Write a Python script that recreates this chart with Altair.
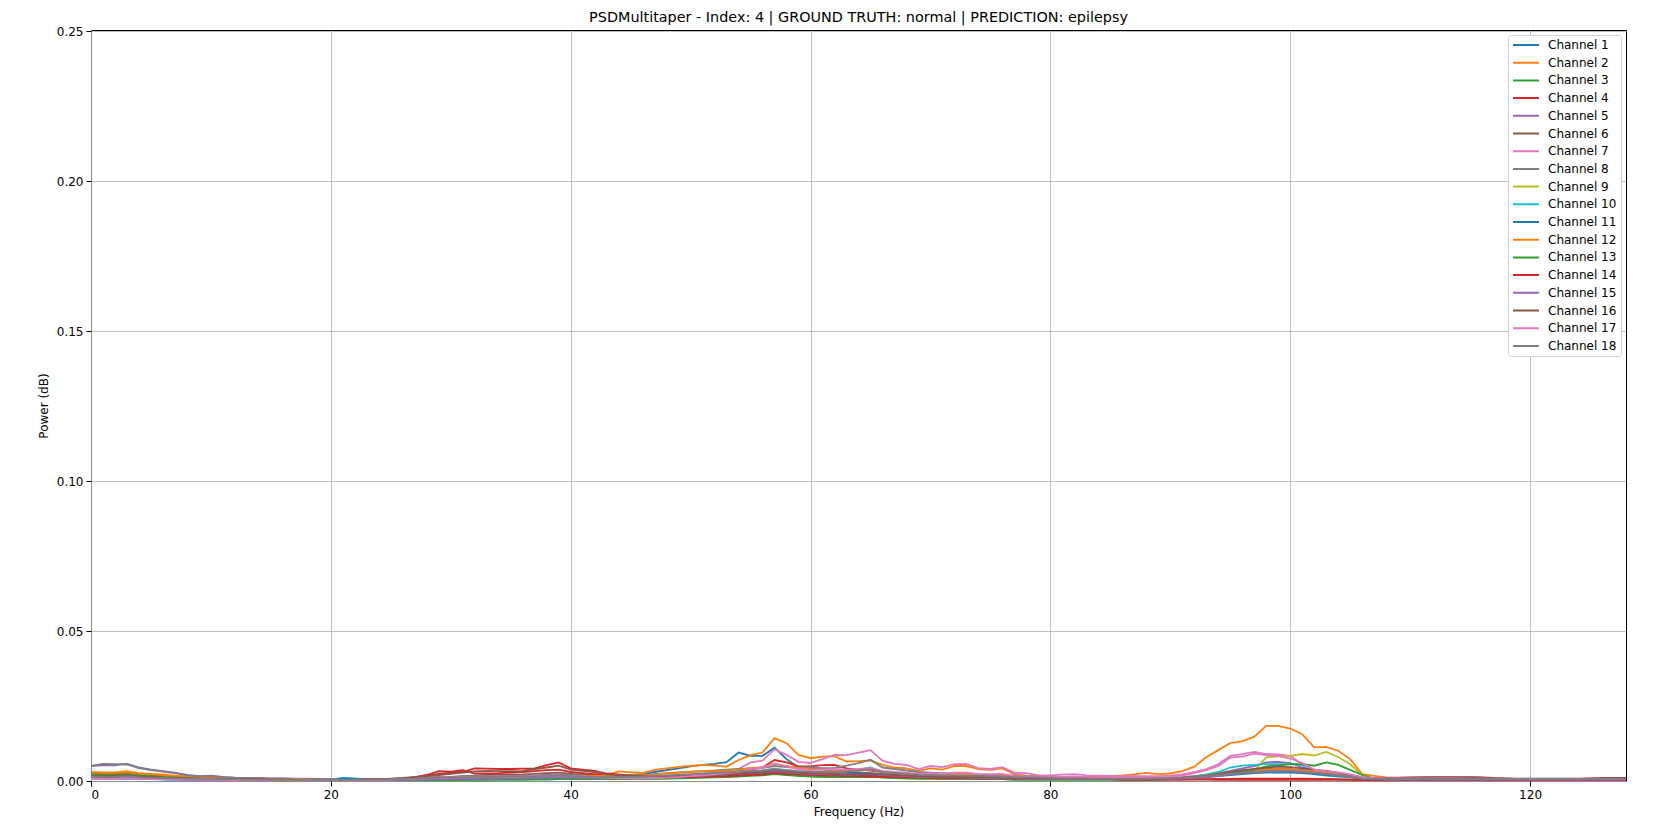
import altair as alt
import pandas as pd

# Frequencies (Hz)
freqs = [0, 1, 2, 3, 4, 5, 6, 7, 8, 9,
         10, 11, 12, 13, 14, 15, 16, 17, 18, 19,
         20, 21, 22, 23, 24, 25, 26, 27, 28, 29,
         30, 31, 32, 33, 34, 35, 36, 37, 38, 39,
         40, 41, 42, 43, 44, 45, 46, 47, 48, 49,
         50, 51, 52, 53, 54, 55, 56, 57, 58, 59,
         60, 61, 62, 63, 64, 65, 66, 67, 68, 69,
         70, 71, 72, 73, 74, 75, 76, 77, 78, 79,
         80, 81, 82, 83, 84, 85, 86, 87, 88, 89,
         90, 91, 92, 93, 94, 95, 96, 97, 98, 99,
         100, 101, 102, 103, 104, 105, 106, 107, 108, 109,
         110, 111, 112, 113, 114, 115, 116, 117, 118, 119,
         120, 121, 122, 123, 124, 125, 126, 127, 128]

# Power values per channel, in units of 1e-3
ch1 = [2.0, 1.8, 1.8, 2.0, 1.6, 1.4, 1.2, 1.0, 0.9, 0.9,
       0.8, 0.7, 0.7, 0.6, 0.6, 0.5, 0.5, 0.5, 0.4, 0.4,
       0.4, 1.0, 0.8, 0.6, 0.5, 0.6, 0.7, 0.8, 0.9, 1.0,
       1.1, 1.2, 1.2, 1.3, 1.3, 1.4, 1.5, 1.6, 1.7, 1.8,
       1.6, 1.5, 1.4, 1.5, 1.8, 2.0, 2.3, 3.0, 3.6, 4.2,
       4.9, 5.4, 5.7, 6.3, 9.5, 8.4, 8.4, 11.1, 7.3, 4.5,
       4.0, 4.0, 3.2, 3.0, 2.8, 2.6, 2.3, 2.0, 1.8, 1.6,
       1.6, 1.5, 1.5, 1.4, 1.3, 1.2, 1.2, 1.0, 0.9, 0.8,
       0.8, 0.8, 0.7, 0.7, 0.7, 0.7, 0.7, 0.8, 0.8, 0.9,
       1.0, 1.2, 1.5, 1.8, 2.2, 2.6, 3.0, 3.2, 3.4, 3.5,
       3.3, 3.0, 2.6, 2.2, 1.8, 1.3, 0.8, 0.6, 0.6, 0.6,
       0.6, 0.6, 0.6, 0.6, 0.6, 0.5, 0.5, 0.4, 0.4, 0.4,
       0.4, 0.4, 0.4, 0.4, 0.4, 0.4, 0.4, 0.4, 0.4]
ch2 = [3.0, 2.9, 2.9, 3.3, 2.6, 2.4, 2.2, 1.8, 1.5, 1.3,
       1.1, 1.0, 0.9, 0.8, 0.7, 0.7, 0.6, 0.6, 0.5, 0.5,
       0.5, 0.5, 0.5, 0.5, 0.6, 0.7, 0.8, 0.9, 1.0, 1.1,
       1.2, 1.3, 1.4, 1.4, 1.5, 1.5, 1.6, 1.7, 1.8, 2.0,
       2.0, 2.2, 2.4, 2.0, 3.2, 2.9, 2.6, 3.7, 4.2, 4.7,
       5.0, 5.4, 5.1, 4.8, 7.0, 8.6, 9.5, 14.3, 12.6, 8.7,
       7.6, 8.1, 8.3, 6.5, 6.6, 6.9, 5.4, 4.5, 4.2, 3.4,
       4.2, 3.8, 5.0, 5.0, 4.0, 3.7, 4.2, 2.3, 1.8, 1.5,
       1.4, 1.4, 1.4, 1.4, 1.5, 1.6, 1.9, 2.2, 2.7, 2.3,
       2.5, 3.3, 4.8, 7.9, 10.3, 12.6, 13.2, 14.8, 18.4, 18.4,
       17.5, 15.6, 11.2, 11.4, 10.1, 7.3, 2.3, 1.7, 1.2, 1.0,
       1.0, 1.0, 1.0, 1.0, 0.9, 0.9, 0.8, 0.7, 0.6, 0.6,
       0.5, 0.5, 0.5, 0.5, 0.5, 0.5, 0.5, 0.5, 0.5]
ch3 = [2.5, 2.2, 2.2, 2.5, 2.0, 1.8, 1.5, 1.2, 1.0, 0.9,
       0.8, 0.7, 0.6, 0.6, 0.5, 0.5, 0.4, 0.4, 0.4, 0.3,
       0.3, 0.3, 0.3, 0.3, 0.3, 0.3, 0.3, 0.4, 0.4, 0.4,
       0.4, 0.5, 0.5, 0.5, 0.5, 0.5, 0.5, 0.6, 0.6, 0.6,
       0.6, 0.6, 0.6, 0.6, 0.7, 0.7, 0.8, 0.8, 0.9, 1.0,
       1.1, 1.2, 1.3, 1.5, 1.8, 2.0, 2.2, 2.8, 2.2, 1.8,
       1.6, 1.5, 1.4, 1.3, 1.3, 1.4, 1.2, 1.0, 0.9, 0.8,
       0.8, 0.7, 0.7, 0.7, 0.6, 0.6, 0.6, 0.5, 0.5, 0.5,
       0.5, 0.5, 0.5, 0.5, 0.5, 0.5, 0.5, 0.5, 0.5, 0.6,
       0.7, 0.9, 1.2, 1.6, 2.0, 2.6, 3.0, 3.3, 3.6, 3.8,
       3.8, 3.6, 3.2, 2.8, 2.4, 1.8, 0.9, 0.6, 0.5, 0.5,
       0.5, 0.5, 0.5, 0.5, 0.5, 0.4, 0.4, 0.4, 0.4, 0.4,
       0.4, 0.4, 0.4, 0.4, 0.4, 0.4, 0.4, 0.4, 0.4]
ch4 = [2.0, 1.9, 1.9, 2.4, 1.8, 1.6, 1.4, 1.2, 1.0, 0.9,
       0.8, 0.8, 0.7, 0.6, 0.6, 0.5, 0.5, 0.5, 0.4, 0.4,
       0.4, 0.4, 0.4, 0.4, 0.5, 0.6, 0.8, 1.3, 2.0, 3.3,
       3.1, 3.6, 2.5, 2.5, 2.6, 2.8, 3.0, 3.3, 3.6, 3.8,
       3.0, 2.6, 2.2, 1.8, 1.5, 1.3, 1.2, 1.2, 1.3, 1.5,
       1.6, 1.8, 2.0, 2.3, 3.2, 3.8, 4.5, 7.0, 6.2, 4.9,
       4.9, 5.3, 5.4, 4.2, 3.8, 3.5, 3.0, 2.6, 2.2, 2.0,
       1.8, 1.6, 1.5, 1.4, 1.3, 1.2, 1.2, 1.0, 0.9, 0.8,
       0.8, 0.7, 0.7, 0.6, 0.6, 0.6, 0.5, 0.5, 0.5, 0.5,
       0.5, 0.5, 0.6, 0.6, 0.7, 0.7, 0.8, 0.8, 0.8, 0.8,
       0.8, 0.8, 0.7, 0.7, 0.6, 0.5, 0.4, 0.4, 0.4, 0.4,
       0.4, 0.4, 0.4, 0.4, 0.4, 0.4, 0.4, 0.4, 0.4, 0.4,
       0.4, 0.4, 0.4, 0.4, 0.4, 0.4, 0.4, 0.4, 0.4]
ch5 = [5.0, 5.3, 5.2, 5.8, 4.5, 3.8, 3.3, 2.8, 2.0, 1.6,
       1.8, 1.4, 1.1, 1.0, 1.0, 0.9, 0.9, 0.8, 0.8, 0.7,
       0.6, 0.6, 0.5, 0.5, 0.5, 0.5, 0.6, 0.6, 0.6, 0.7,
       0.7, 0.7, 0.8, 0.8, 0.8, 0.9, 0.9, 1.0, 1.0, 1.0,
       1.0, 1.0, 1.0, 1.0, 1.0, 1.1, 1.1, 1.2, 1.3, 1.4,
       1.5, 1.6, 1.8, 2.0, 2.2, 2.4, 2.6, 3.0, 2.6, 2.3,
       2.1, 2.0, 1.9, 1.8, 1.9, 2.0, 1.7, 1.5, 1.4, 1.2,
       1.1, 1.0, 1.0, 0.9, 0.9, 0.8, 0.8, 0.7, 0.7, 0.6,
       0.6, 0.6, 0.6, 0.6, 0.6, 0.6, 0.6, 0.6, 0.6, 0.7,
       0.8, 1.0, 1.4, 1.9, 2.6, 3.4, 4.2, 5.0, 6.2, 6.4,
       6.0, 4.5, 3.5, 3.0, 2.5, 1.8, 0.9, 0.7, 0.6, 0.6,
       0.6, 0.6, 0.6, 0.6, 0.6, 0.5, 0.5, 0.5, 0.5, 0.5,
       0.5, 0.5, 0.5, 0.5, 0.5, 0.5, 0.5, 0.5, 0.5]
ch6 = [1.2, 1.1, 1.1, 1.3, 1.0, 0.9, 0.8, 0.7, 0.6, 0.6,
       0.5, 0.5, 0.5, 0.4, 0.4, 0.4, 0.4, 0.3, 0.3, 0.3,
       0.3, 0.3, 0.3, 0.3, 0.4, 0.5, 0.6, 0.8, 1.0, 1.2,
       1.4, 1.6, 1.8, 2.0, 2.0, 2.1, 2.2, 2.4, 2.6, 2.8,
       2.4, 2.0, 1.8, 1.5, 1.3, 1.2, 1.1, 1.1, 1.2, 1.3,
       1.4, 1.6, 1.8, 2.0, 2.3, 2.6, 2.9, 3.4, 3.0, 2.6,
       2.4, 2.3, 2.2, 2.1, 2.2, 2.3, 2.0, 1.8, 1.6, 1.5,
       1.4, 1.3, 1.3, 1.2, 1.1, 1.1, 1.0, 0.9, 0.8, 0.8,
       0.7, 0.7, 0.7, 0.7, 0.7, 0.7, 0.7, 0.7, 0.7, 0.8,
       0.9, 1.0, 1.3, 1.7, 2.2, 2.8, 3.3, 3.6, 3.9, 4.1,
       3.9, 3.6, 3.3, 3.0, 2.6, 1.9, 1.1, 0.9, 0.9, 1.0,
       1.1, 1.1, 1.2, 1.2, 1.2, 1.2, 1.1, 0.9, 0.8, 0.7,
       0.7, 0.7, 0.7, 0.7, 0.7, 0.8, 0.9, 0.9, 0.9]
ch7 = [1.0, 0.9, 0.9, 1.1, 0.9, 0.8, 0.7, 0.6, 0.5, 0.5,
       0.4, 0.4, 0.4, 0.4, 0.3, 0.3, 0.3, 0.3, 0.3, 0.3,
       0.3, 0.3, 0.3, 0.3, 0.4, 0.5, 0.6, 0.8, 1.0, 1.2,
       1.3, 1.4, 1.5, 1.5, 1.6, 1.6, 1.7, 1.8, 1.9, 2.0,
       1.8, 1.6, 1.4, 1.2, 1.0, 0.9, 0.9, 1.0, 1.2, 1.5,
       1.8, 2.2, 2.6, 3.2, 4.0, 6.2, 6.8, 10.6, 8.7, 6.4,
       6.0, 7.3, 8.7, 8.6, 9.5, 10.3, 6.8, 5.7, 5.4, 4.0,
       5.0, 4.6, 5.6, 5.7, 4.3, 4.0, 4.6, 2.7, 2.6, 1.9,
       1.9, 2.1, 2.3, 1.9, 1.8, 1.7, 1.6, 1.6, 1.6, 1.6,
       1.8, 2.2, 3.0, 4.0, 5.6, 8.4, 9.0, 9.7, 9.0, 8.9,
       8.4, 5.6, 3.5, 3.0, 2.6, 2.0, 1.2, 0.9, 0.8, 0.8,
       0.8, 0.8, 0.8, 0.8, 0.8, 0.7, 0.7, 0.6, 0.6, 0.6,
       0.6, 0.6, 0.6, 0.6, 0.6, 0.6, 0.6, 0.6, 0.6]
ch8 = [5.0, 5.7, 5.6, 5.5, 4.3, 3.6, 3.1, 2.6, 1.9, 1.5,
       1.6, 1.3, 1.0, 0.9, 0.9, 0.8, 0.8, 0.7, 0.7, 0.6,
       0.5, 0.5, 0.5, 0.5, 0.5, 0.6, 0.7, 0.9, 1.1, 1.3,
       1.4, 1.5, 1.6, 1.6, 1.7, 1.7, 1.8, 1.9, 2.0, 2.1,
       2.0, 1.8, 1.6, 1.5, 1.6, 1.8, 2.0, 2.3, 2.6, 2.9,
       3.1, 3.3, 3.5, 3.8, 4.0, 4.2, 4.4, 5.0, 4.6, 4.5,
       4.5, 4.3, 4.3, 5.1, 6.0, 7.1, 4.5, 4.0, 3.5, 3.0,
       2.8, 2.6, 2.6, 2.5, 2.3, 2.2, 2.0, 1.8, 1.6, 1.4,
       1.2, 1.1, 1.0, 1.0, 1.0, 0.9, 0.9, 0.9, 0.9, 1.0,
       1.1, 1.3, 1.6, 2.0, 2.5, 3.0, 3.4, 3.7, 3.9, 4.0,
       3.9, 3.6, 3.2, 2.8, 2.3, 1.7, 1.0, 0.8, 0.8, 0.8,
       0.8, 0.8, 0.8, 0.8, 0.8, 0.7, 0.7, 0.7, 0.7, 0.7,
       0.7, 0.7, 0.7, 0.7, 0.7, 0.7, 0.7, 0.7, 0.7]
ch9 = [1.2, 1.1, 1.1, 1.2, 1.0, 0.9, 0.8, 0.7, 0.6, 0.5,
       0.5, 0.4, 0.4, 0.4, 0.3, 0.3, 0.3, 0.3, 0.3, 0.3,
       0.3, 0.3, 0.3, 0.3, 0.3, 0.3, 0.4, 0.4, 0.5, 0.5,
       0.6, 0.6, 0.7, 0.7, 0.7, 0.8, 0.8, 0.8, 0.9, 0.9,
       0.9, 0.9, 0.9, 0.9, 1.0, 1.0, 1.1, 1.2, 1.3, 1.4,
       1.5, 1.6, 1.8, 2.0, 2.2, 2.5, 2.8, 3.5, 2.8, 2.4,
       2.2, 2.0, 1.9, 1.8, 1.9, 2.0, 1.7, 1.5, 1.3, 1.2,
       1.1, 1.0, 1.0, 0.9, 0.9, 0.8, 0.8, 0.7, 0.7, 0.6,
       0.6, 0.6, 0.6, 0.6, 0.6, 0.6, 0.6, 0.6, 0.6, 0.7,
       0.8, 1.0, 1.3, 1.7, 2.2, 2.6, 3.0, 3.4, 7.9, 8.2,
       8.4, 9.0, 8.5, 9.7, 8.0, 5.6, 2.0, 0.8, 0.6, 0.6,
       0.6, 0.6, 0.6, 0.6, 0.6, 0.5, 0.5, 0.5, 0.5, 0.5,
       0.5, 0.5, 0.5, 0.5, 0.5, 0.5, 0.5, 0.5, 0.5]
ch10 = [0.8, 0.7, 0.7, 0.8, 0.7, 0.6, 0.5, 0.5, 0.4, 0.4,
        0.4, 0.3, 0.3, 0.3, 0.3, 0.3, 0.3, 0.3, 0.3, 0.3,
        0.3, 1.0, 0.8, 0.5, 0.4, 0.4, 0.4, 0.5, 0.5, 0.6,
        0.6, 0.7, 0.7, 0.7, 0.8, 0.8, 0.8, 0.9, 0.9, 0.9,
        0.9, 0.9, 0.9, 0.9, 1.0, 1.0, 1.1, 1.2, 1.3, 1.5,
        1.7, 1.9, 2.2, 2.5, 2.8, 3.2, 3.5, 4.0, 3.6, 3.2,
        3.0, 2.9, 2.8, 3.2, 3.8, 4.5, 3.0, 2.5, 2.2, 1.9,
        1.7, 1.5, 1.4, 1.3, 1.2, 1.1, 1.0, 0.9, 0.8, 0.7,
        0.7, 0.6, 0.6, 0.6, 0.6, 0.6, 0.6, 0.6, 0.6, 0.7,
        0.8, 1.0, 1.5, 2.2, 3.0, 4.5, 5.1, 5.4, 5.6, 5.6,
        5.6, 5.3, 2.3, 1.8, 1.5, 1.2, 0.8, 0.6, 0.5, 0.5,
        0.5, 0.5, 0.5, 0.5, 0.5, 0.5, 0.4, 0.4, 0.4, 0.4,
        0.4, 0.4, 0.4, 0.4, 0.4, 0.4, 0.4, 0.4, 0.4]
ch11 = [1.0, 0.9, 0.9, 1.0, 0.8, 0.7, 0.6, 0.5, 0.5, 0.4,
        0.4, 0.4, 0.3, 0.3, 0.3, 0.3, 0.3, 0.3, 0.3, 0.3,
        0.3, 0.8, 0.6, 0.4, 0.3, 0.3, 0.3, 0.4, 0.4, 0.5,
        0.5, 0.5, 0.6, 0.6, 0.6, 0.6, 0.7, 0.7, 0.7, 0.7,
        0.7, 0.7, 0.7, 0.7, 0.8, 0.8, 0.9, 1.0, 1.1, 1.2,
        1.3, 1.5, 1.7, 1.9, 2.2, 2.5, 2.8, 3.2, 2.8, 2.4,
        2.2, 2.0, 1.9, 1.8, 1.9, 2.0, 1.7, 1.5, 1.3, 1.2,
        1.1, 1.0, 1.0, 0.9, 0.9, 0.8, 0.8, 0.7, 0.7, 0.6,
        0.6, 0.6, 0.6, 0.6, 0.6, 0.6, 0.6, 0.6, 0.6, 0.6,
        0.7, 0.8, 1.0, 1.3, 1.6, 2.0, 2.3, 2.6, 2.8, 2.9,
        2.8, 2.6, 2.3, 2.0, 1.7, 1.3, 0.8, 0.6, 0.5, 0.5,
        0.5, 0.5, 0.5, 0.5, 0.5, 0.5, 0.4, 0.4, 0.4, 0.4,
        0.4, 0.4, 0.4, 0.4, 0.4, 0.4, 0.4, 0.4, 0.4]
ch12 = [2.6, 2.5, 2.5, 2.8, 2.3, 2.0, 1.8, 1.5, 1.2, 1.0,
        0.9, 0.8, 0.7, 0.7, 0.6, 0.6, 0.5, 0.5, 0.5, 0.4,
        0.4, 0.4, 0.4, 0.4, 0.5, 0.6, 0.7, 0.8, 0.9, 1.0,
        1.1, 1.2, 1.2, 1.3, 1.3, 1.4, 1.4, 1.5, 1.6, 1.7,
        1.6, 1.6, 1.7, 1.6, 1.9, 1.9, 1.9, 2.2, 2.5, 2.8,
        3.0, 3.2, 3.3, 3.4, 3.8, 4.3, 4.6, 5.8, 5.0, 4.3,
        4.0, 3.8, 3.6, 3.4, 3.5, 3.8, 3.0, 2.6, 2.4, 2.1,
        2.2, 2.0, 2.4, 2.4, 2.0, 1.9, 2.0, 1.3, 1.1, 1.0,
        0.9, 0.9, 0.9, 0.8, 0.8, 0.8, 0.8, 0.8, 0.8, 0.8,
        0.9, 1.1, 1.4, 1.8, 2.3, 2.8, 3.2, 3.5, 3.8, 4.0,
        3.8, 3.5, 3.1, 2.7, 2.3, 1.6, 0.9, 0.7, 0.6, 0.6,
        0.6, 0.6, 0.6, 0.6, 0.6, 0.6, 0.5, 0.5, 0.5, 0.5,
        0.5, 0.5, 0.5, 0.5, 0.5, 0.5, 0.5, 0.5, 0.5]
ch13 = [2.3, 2.1, 2.1, 2.3, 1.9, 1.7, 1.4, 1.2, 1.0, 0.8,
        0.7, 0.6, 0.6, 0.5, 0.5, 0.4, 0.4, 0.4, 0.4, 0.3,
        0.3, 0.3, 0.3, 0.3, 0.3, 0.3, 0.3, 0.3, 0.3, 0.4,
        0.4, 0.4, 0.4, 0.4, 0.5, 0.5, 0.5, 0.5, 0.5, 0.6,
        0.6, 0.6, 0.6, 0.6, 0.6, 0.6, 0.7, 0.7, 0.8, 0.9,
        1.0, 1.1, 1.2, 1.3, 1.5, 1.7, 1.9, 2.3, 2.0, 1.7,
        1.5, 1.4, 1.3, 1.3, 1.3, 1.4, 1.2, 1.0, 0.9, 0.8,
        0.8, 0.7, 0.7, 0.7, 0.6, 0.6, 0.6, 0.5, 0.5, 0.5,
        0.5, 0.5, 0.5, 0.5, 0.5, 0.5, 0.5, 0.5, 0.5, 0.5,
        0.6, 0.8, 1.1, 1.5, 2.0, 2.6, 3.2, 3.8, 4.9, 5.1,
        5.6, 5.6, 5.1, 6.2, 5.4, 3.7, 2.0, 0.7, 0.5, 0.5,
        0.5, 0.5, 0.5, 0.5, 0.5, 0.5, 0.4, 0.4, 0.4, 0.4,
        0.4, 0.4, 0.4, 0.4, 0.4, 0.4, 0.4, 0.4, 0.4]
ch14 = [1.5, 1.4, 1.4, 1.6, 1.3, 1.2, 1.0, 0.9, 0.8, 0.7,
        0.6, 0.6, 0.5, 0.5, 0.5, 0.4, 0.4, 0.4, 0.4, 0.4,
        0.4, 0.4, 0.4, 0.5, 0.6, 0.7, 0.9, 1.2, 1.8, 2.4,
        2.8, 3.0, 4.2, 4.1, 4.0, 4.0, 4.1, 4.2, 5.3, 6.2,
        4.2, 3.8, 3.4, 2.5, 2.2, 1.8, 1.5, 1.3, 1.2, 1.2,
        1.3, 1.4, 1.5, 1.6, 1.8, 2.0, 2.2, 2.6, 2.4, 2.2,
        2.0, 1.9, 1.8, 1.7, 1.6, 1.5, 1.4, 1.3, 1.2, 1.1,
        1.0, 1.0, 0.9, 0.9, 0.8, 0.8, 0.8, 0.7, 0.7, 0.6,
        0.6, 0.6, 0.6, 0.6, 0.6, 0.6, 0.5, 0.5, 0.5, 0.5,
        0.5, 0.5, 0.5, 0.5, 0.4, 0.4, 0.4, 0.4, 0.4, 0.4,
        0.4, 0.4, 0.4, 0.4, 0.4, 0.4, 0.3, 0.3, 0.3, 0.3,
        0.3, 0.3, 0.3, 0.3, 0.3, 0.3, 0.3, 0.3, 0.3, 0.3,
        0.3, 0.3, 0.3, 0.3, 0.3, 0.3, 0.3, 0.3, 0.3]
ch15 = [1.0, 0.9, 0.9, 1.1, 0.9, 0.8, 0.7, 0.6, 0.5, 0.5,
        0.5, 0.4, 0.4, 0.4, 0.4, 0.3, 0.3, 0.3, 0.3, 0.3,
        0.3, 0.3, 0.3, 0.3, 0.3, 0.4, 0.4, 0.5, 0.5, 0.6,
        0.6, 0.7, 0.7, 0.8, 0.8, 0.9, 0.9, 1.0, 1.1, 1.2,
        1.1, 1.0, 1.0, 1.0, 1.1, 1.2, 1.3, 1.4, 1.5, 1.6,
        1.7, 1.8, 2.0, 2.2, 2.4, 2.7, 3.0, 3.4, 3.0, 2.6,
        2.4, 2.3, 2.2, 2.1, 2.2, 2.4, 2.0, 1.8, 1.6, 1.4,
        1.3, 1.2, 1.2, 1.1, 1.0, 1.0, 0.9, 0.8, 0.7, 0.7,
        0.6, 0.6, 0.6, 0.6, 0.6, 0.6, 0.6, 0.6, 0.6, 0.6,
        0.7, 0.8, 1.0, 1.3, 1.7, 2.2, 2.6, 3.0, 3.3, 3.5,
        3.4, 3.1, 2.7, 2.3, 1.9, 1.4, 0.8, 0.6, 0.5, 0.5,
        0.5, 0.5, 0.5, 0.5, 0.5, 0.5, 0.5, 0.5, 0.5, 0.5,
        0.5, 0.5, 0.5, 0.5, 0.5, 0.5, 0.5, 0.5, 0.5]
ch16 = [1.8, 1.7, 1.7, 1.9, 1.5, 1.3, 1.1, 1.0, 0.9, 0.8,
        0.7, 0.7, 0.6, 0.6, 0.5, 0.5, 0.5, 0.4, 0.4, 0.4,
        0.4, 0.4, 0.4, 0.5, 0.6, 0.8, 1.0, 1.3, 1.6, 2.0,
        2.4, 2.8, 3.2, 3.4, 3.3, 3.3, 3.4, 4.0, 4.5, 5.1,
        3.8, 3.4, 3.0, 2.2, 2.0, 1.8, 1.6, 1.5, 1.5, 1.6,
        1.7, 1.8, 2.0, 2.2, 2.5, 2.8, 3.0, 3.6, 3.2, 2.8,
        2.6, 2.5, 2.4, 2.3, 2.4, 2.5, 2.2, 2.0, 1.8, 1.6,
        1.5, 1.4, 1.4, 1.3, 1.2, 1.2, 1.1, 1.0, 0.9, 0.9,
        0.8, 0.8, 0.8, 0.7, 0.7, 0.7, 0.7, 0.7, 0.7, 0.8,
        0.9, 1.1, 1.4, 1.8, 2.4, 3.0, 3.6, 4.0, 4.4, 4.8,
        4.6, 4.2, 3.8, 3.4, 2.8, 2.0, 1.2, 1.0, 1.0, 1.1,
        1.2, 1.3, 1.3, 1.3, 1.3, 1.3, 1.2, 1.0, 0.9, 0.8,
        0.8, 0.8, 0.8, 0.8, 0.8, 0.9, 1.0, 1.0, 1.0]
ch17 = [0.8, 0.7, 0.7, 0.9, 0.7, 0.6, 0.6, 0.5, 0.5, 0.4,
        0.4, 0.4, 0.3, 0.3, 0.3, 0.3, 0.3, 0.3, 0.3, 0.3,
        0.3, 0.3, 0.3, 0.3, 0.4, 0.5, 0.6, 0.7, 0.9, 1.1,
        1.2, 1.3, 1.4, 1.4, 1.5, 1.5, 1.6, 1.7, 1.8, 1.9,
        1.7, 1.5, 1.3, 1.1, 1.0, 0.9, 0.9, 1.0, 1.1, 1.3,
        1.6, 1.9, 2.2, 2.6, 3.0, 4.0, 4.5, 5.8, 4.8, 4.0,
        3.6, 3.8, 4.0, 3.8, 4.0, 4.3, 3.4, 3.0, 2.8, 2.4,
        2.6, 2.4, 2.8, 2.8, 2.3, 2.2, 2.4, 1.6, 1.5, 1.3,
        1.3, 1.4, 1.5, 1.3, 1.2, 1.2, 1.1, 1.1, 1.1, 1.2,
        1.4, 1.8, 2.6, 3.6, 5.0, 7.8, 8.1, 9.1, 8.6, 8.4,
        7.5, 6.0, 3.8, 3.2, 2.8, 2.2, 1.3, 1.0, 0.9, 0.9,
        0.9, 0.9, 0.9, 0.9, 0.9, 0.8, 0.8, 0.7, 0.7, 0.7,
        0.7, 0.7, 0.7, 0.7, 0.7, 0.7, 0.7, 0.7, 0.7]
ch18 = [1.5, 1.4, 1.4, 1.6, 1.3, 1.1, 1.0, 0.9, 0.8, 0.7,
        0.7, 0.6, 0.6, 0.5, 0.5, 0.5, 0.4, 0.4, 0.4, 0.4,
        0.4, 0.4, 0.4, 0.4, 0.5, 0.6, 0.7, 0.8, 1.0, 1.1,
        1.2, 1.3, 1.3, 1.4, 1.4, 1.5, 1.5, 1.6, 1.7, 1.8,
        1.7, 1.5, 1.4, 1.3, 1.3, 1.4, 1.5, 1.7, 1.9, 2.1,
        2.3, 2.5, 2.7, 2.9, 3.1, 3.3, 3.5, 4.0, 3.6, 3.3,
        3.1, 3.0, 3.0, 3.2, 3.5, 3.9, 3.0, 2.7, 2.4, 2.1,
        2.0, 1.9, 1.9, 1.8, 1.7, 1.6, 1.5, 1.3, 1.2, 1.1,
        1.0, 0.9, 0.9, 0.9, 0.8, 0.8, 0.8, 0.8, 0.8, 0.9,
        1.0, 1.1, 1.3, 1.6, 2.0, 2.4, 2.8, 3.0, 3.2, 3.3,
        3.2, 3.0, 2.7, 2.4, 2.0, 1.5, 0.9, 0.7, 0.7, 0.7,
        0.7, 0.7, 0.7, 0.7, 0.7, 0.7, 0.7, 0.7, 0.7, 0.7,
        0.7, 0.7, 0.7, 0.7, 0.7, 0.7, 0.7, 0.7, 0.7]

channel_values = [ch1, ch2, ch3, ch4, ch5, ch6, ch7, ch8, ch9, ch10,
                  ch11, ch12, ch13, ch14, ch15, ch16, ch17, ch18]
channel_names = ["Channel 1", "Channel 2", "Channel 3", "Channel 4", "Channel 5",
                 "Channel 6", "Channel 7", "Channel 8", "Channel 9", "Channel 10",
                 "Channel 11", "Channel 12", "Channel 13", "Channel 14", "Channel 15",
                 "Channel 16", "Channel 17", "Channel 18"]
tab10 = ["#1f77b4", "#ff7f0e", "#2ca02c", "#d62728", "#9467bd",
         "#8c564b", "#e377c2", "#7f7f7f", "#bcbd22", "#17becf"]
channel_colors = [tab10[i % 10] for i in range(len(channel_names))]

for vals in channel_values:
    assert len(vals) == len(freqs), len(vals)

rows = []
for idx, (name, vals) in enumerate(zip(channel_names, channel_values)):
    for f, v in zip(freqs, vals):
        rows.append({"Frequency": f, "Power": v / 1000.0, "Channel": name, "idx": idx})
df = pd.DataFrame(rows)

FONT = "DejaVu Sans"

chart = alt.Chart(df).mark_line(strokeWidth=1.8, clip=True).encode(
    x=alt.X("Frequency:Q",
            scale=alt.Scale(domain=[0, 128], nice=False, zero=False),
            axis=alt.Axis(values=[0, 20, 40, 60, 80, 100, 120], format="d",
                          title="Frequency (Hz)", titlePadding=6, labelPadding=3)),
    y=alt.Y("Power:Q",
            scale=alt.Scale(domain=[0, 0.2505], nice=False),
            axis=alt.Axis(values=[0, 0.05, 0.10, 0.15, 0.20, 0.25], format=".2f",
                          title="Power (dB)", titlePadding=6, labelPadding=3)),
    color=alt.Color("Channel:N",
                    scale=alt.Scale(domain=channel_names, range=channel_colors),
                    sort=channel_names,
                    legend=alt.Legend(title=None, orient="none", legendX=1417, legendY=5,
                                      symbolType="stroke", symbolSize=676,
                                      symbolStrokeWidth=2, labelFontSize=12,
                                      labelFont=FONT, labelColor="black",
                                      labelOffset=8, clipHeight=12, rowPadding=5.7,
                                      padding=4,
                                      strokeColor="#d0d0d0", fillColor="white",
                                      cornerRadius=3)),
    order=alt.Order("idx:Q"),
).properties(
    width=1535,
    height=751,
    title=alt.TitleParams("PSDMultitaper - Index: 4 | GROUND TRUTH: normal | PREDICTION: epilepsy",
                          font=FONT, fontSize=14.4, fontWeight="normal", color="black",
                          anchor="middle", offset=0),
    padding={"left": 83, "top": 22, "right": 26, "bottom": 46},
    autosize=alt.AutoSizeParams(type="none"),
).configure_view(
    stroke="black", strokeWidth=1
).configure_axis(
    grid=True, gridColor="#b0b0b0", gridWidth=0.8, domain=False,
    tickColor="black", tickSize=5, tickWidth=1,
    labelFont=FONT, labelFontSize=12, labelColor="black",
    titleFont=FONT, titleFontSize=12, titleFontWeight="normal", titleColor="black",
)

chart.save("out.html", embed_options={"renderer": "svg", "actions": False})
